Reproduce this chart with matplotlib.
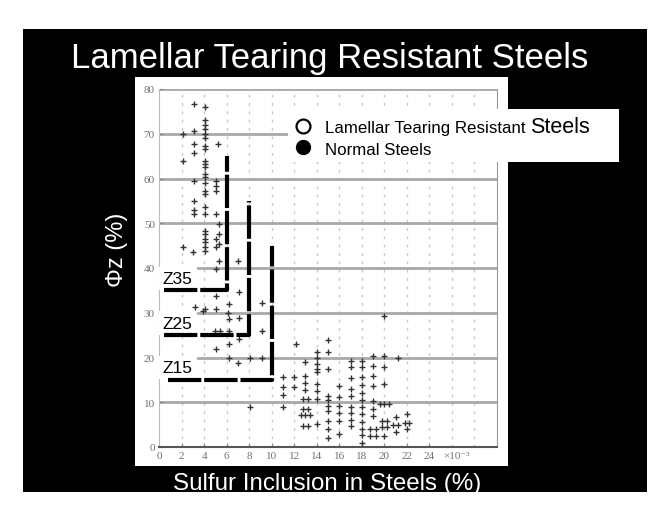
import matplotlib
matplotlib.use("Agg")
import matplotlib.pyplot as plt
from matplotlib.patches import Rectangle
from matplotlib.lines import Line2D

# ------------------------------
# Data
# (sulfur in 1e-3 %, reduction of area phi z in %)
# ------------------------------

ltr_x = [2.1, 2.1, 2.1, 3.1, 3.1, 3.1, 3.1, 3.1, 3.1, 3.1, 3.1, 3.0, 3.2, 3.9,
         4.1, 4.1, 4.1, 4.1, 4.1, 4.1, 4.1, 4.1, 4.1, 4.1, 4.1, 4.1, 4.1, 4.1,
         4.1, 4.1, 4.1, 4.1, 4.1, 4.1, 4.1, 4.1, 4.1, 4.1, 4.1,
         5.2, 5.1, 5.1, 5.1, 5.1, 5.3, 5.3, 5.1, 5.3, 5.1, 5.3, 5.1, 5.1, 5.1,
         5.0, 5.1, 5.4, 6.2, 6.1, 6.2, 6.2, 6.2, 6.2, 7.0, 7.1, 7.1, 7.1, 7.0,
         8.1, 8.1, 9.1, 9.1, 9.1]
ltr_y = [70, 63.8, 44.8, 76.6, 70.7, 67.7, 65.7, 59.5, 55, 53, 52, 43.5, 31.3, 30.5,
         76, 73, 72, 71, 70, 69, 67.3, 66.6, 64, 63.3, 62.5, 61, 60.3, 59,
         57.3, 56.5, 53.6, 52, 48.3, 47.6, 46.5, 45.8, 44.7, 43.9, 30.8,
         67.7, 59.5, 58.4, 57.3, 52, 49.8, 47.6, 46.5, 45.4, 44.7, 41.6, 39.8, 33.8, 30.8,
         26, 21.9, 26, 32, 30, 28.6, 26, 23, 20, 41.6, 34.6, 28.8, 24.1, 18.8,
         19.9, 8.9, 32.2, 26, 19.8]

normal_x = [11, 11, 11, 11, 12, 12, 12.2,
            13, 13, 13, 13, 12.8, 13.2, 12.8, 13.2, 12.6, 13, 13.4, 12.8, 13.2,
            14, 14, 14, 14, 14, 14, 14, 14, 14,
            15, 15, 15, 15, 15, 15, 15, 15, 15, 15,
            16, 16, 16, 16, 16, 16,
            17, 17, 17, 17, 17, 17, 17, 17, 17,
            18, 18, 18, 18, 18, 18, 18, 18, 18, 18, 18, 18,
            19, 19, 19, 19, 19, 19, 19, 18.7, 19.3, 18.7, 19.3,
            20, 20, 20, 20, 19.6, 20, 20.4, 19.8, 20.2, 19.8, 20.2, 20,
            21.2, 21, 20.8, 21.2, 21,
            22, 21.8, 22.2, 22]
normal_y = [15.6, 13.5, 11.7, 8.9, 15.6, 13.4, 23,
            19, 15.8, 14.2, 12.8, 10.7, 10.7, 8.5, 8.5, 7.1, 7.1, 7.1, 4.7, 4.7,
            21.2, 20, 18.5, 17.4, 16.7, 14, 12.6, 10.7, 5.1,
            24, 21.2, 17.4, 11.5, 10.5, 9.2, 8, 5.7, 4, 2.1,
            13.7, 11.1, 9.2, 7.5, 5.8, 2.9,
            19.3, 17.9, 15.4, 13, 11.5, 9, 7.5, 6, 4.8,
            19.3, 17.9, 15.6, 13.8, 12, 10.5, 9, 7.3, 5.6, 4, 2.6, 1,
            20.4, 18.2, 15.9, 13.7, 10.3, 8.6, 7, 4, 4, 2.5, 2.5,
            29.3, 20.4, 17.9, 14.1, 9.5, 9.5, 9.5, 5.9, 5.9, 4.5, 4.5, 2.5,
            20, 6.6, 4.9, 4.9, 3.4,
            7.4, 5.4, 5.4, 4]

# Z-grade limits: required phi z, max sulfur, top of vertical limit, start of line
z_names = ["Z35", "Z25", "Z15"]
z_level = [35, 25, 15]
z_sulfur = [6, 8, 10]
z_top = [65, 55, 45]
z_start = [0.4, 0.4, 0.8]

x_ticks = [0, 2, 4, 6, 8, 10, 12, 14, 16, 18, 20, 22, 24]
y_ticks = [0, 10, 20, 30, 40, 50, 60, 70, 80]

# ------------------------------
# Figure / slide background
# ------------------------------
W, H = 660, 510
fig = plt.figure(figsize=(W / 100, H / 100), dpi=100)
fig.patch.set_facecolor("white")

def fx(px):
    return px / W

def fy(py):
    return 1 - py / H

fig.add_artist(Rectangle((fx(23), fy(493)), fx(647) - fx(23), fy(30) - fy(493),
                         transform=fig.transFigure, fc="black", ec="none", zorder=-3))
fig.add_artist(Rectangle((fx(135), fy(467)), fx(508) - fx(135), fy(78) - fy(467),
                         transform=fig.transFigure, fc="white", ec="none", zorder=-2))

sans = ["Liberation Sans", "DejaVu Sans"]
serif = ["Liberation Serif", "DejaVu Serif"]

fig.text(0.5, fy(68), "Lamellar Tearing Resistant Steels", color="white",
         fontsize=25, family=sans, ha="center", va="baseline")
fig.text(fx(327), fy(490), "Sulfur Inclusion in Steels (%)", color="white",
         fontsize=17.4, family=sans, ha="center", va="baseline")
fig.text(fx(117), fy(250), "Φz (%)", color="white", fontsize=17, family=sans,
         rotation=90, ha="center", va="center")

# ------------------------------
# Scanned chart axes
# ------------------------------
ax = fig.add_axes([fx(159), fy(448), fx(497) - fx(159), fy(90) - fy(448)])
ax.set_facecolor("white")
ax.set_xlim(0, 30)
ax.set_ylim(0, 80)

for v in range(2, 30, 2):
    ax.axvline(v, color="#c8c8c8", lw=1, ls=(0, (2, 4)), zorder=1)
for v in y_ticks[1:]:
    xmax = 11.4 / 30 if v == 70 else 1
    ax.axhline(v, xmin=0, xmax=xmax, color="#a8a8a8", lw=2, zorder=1)

ax.plot(ltr_x, ltr_y, ls="none", marker="+", ms=4, mew=1, color="#333333", zorder=3)
ax.plot(normal_x, normal_y, ls="none", marker="+", ms=4, mew=1, color="#333333", zorder=3)

for name, lv, s, top, x0 in zip(z_names, z_level, z_sulfur, z_top, z_start):
    ax.plot([x0, s, s], [lv, lv, top], color="black", lw=3,
            ls=(0, (8, 0.7)), solid_joinstyle="miter", zorder=6)
    ax.text(0.35, lv + 1.7, name, fontsize=12.5, family=sans, color="black",
            ha="left", va="baseline", zorder=5,
            bbox=dict(fc="white", ec="none", pad=3))

ax.set_xticks(x_ticks)
ax.set_yticks(y_ticks)
ax.set_xticklabels([str(t) for t in x_ticks], family=serif, fontsize=8, color="#707070")
ax.set_yticklabels([str(t) for t in y_ticks], family=serif, fontsize=8, color="#707070")
ax.annotate("×10⁻³", xy=(26.4, 0), xycoords=("data", "axes fraction"),
            xytext=(0, -3), textcoords="offset points", family=serif, fontsize=8,
            color="#707070", ha="center", va="top")
ax.tick_params(direction="in", length=3, color="#888888", pad=3)
ax.spines["top"].set_visible(False)
ax.spines["left"].set_color("#bbbbbb")
ax.spines["right"].set_color("#999999")
ax.spines["bottom"].set_color("#555555")
ax.spines["bottom"].set_linewidth(1.5)

# ------------------------------
# Legend box (drawn on top of the slide)
# ------------------------------
lg = fig.add_axes([fx(288), fy(163), fx(619) - fx(288), fy(110) - fy(163)], zorder=6)
lg.set_facecolor("white")
lg.set_xlim(288, 619)
lg.set_ylim(163, 110)
lg.axis("off")
lg.add_patch(Rectangle((288, 110), 331, 53, fc="white", ec="none"))
lg.add_line(Line2D([303], [127], marker="o", ms=10, mfc="white", mec="black", mew=1.6))
lg.add_line(Line2D([303], [148], marker="o", ms=10, mfc="black", mec="black"))
t1 = lg.text(325, 133, "Lamellar Tearing Resistant ", fontsize=12.2, family=sans,
             color="black", va="baseline")
fig.canvas.draw()
bb = t1.get_window_extent()
x_end = lg.transData.inverted().transform((bb.x1, bb.y0))[0]
lg.text(x_end, 133, "Steels", fontsize=15.5, family=sans, color="black", va="baseline")
lg.text(325, 155, "Normal Steels", fontsize=12.2, family=sans, color="black", va="baseline")

fig.savefig("out.png", dpi=100)
